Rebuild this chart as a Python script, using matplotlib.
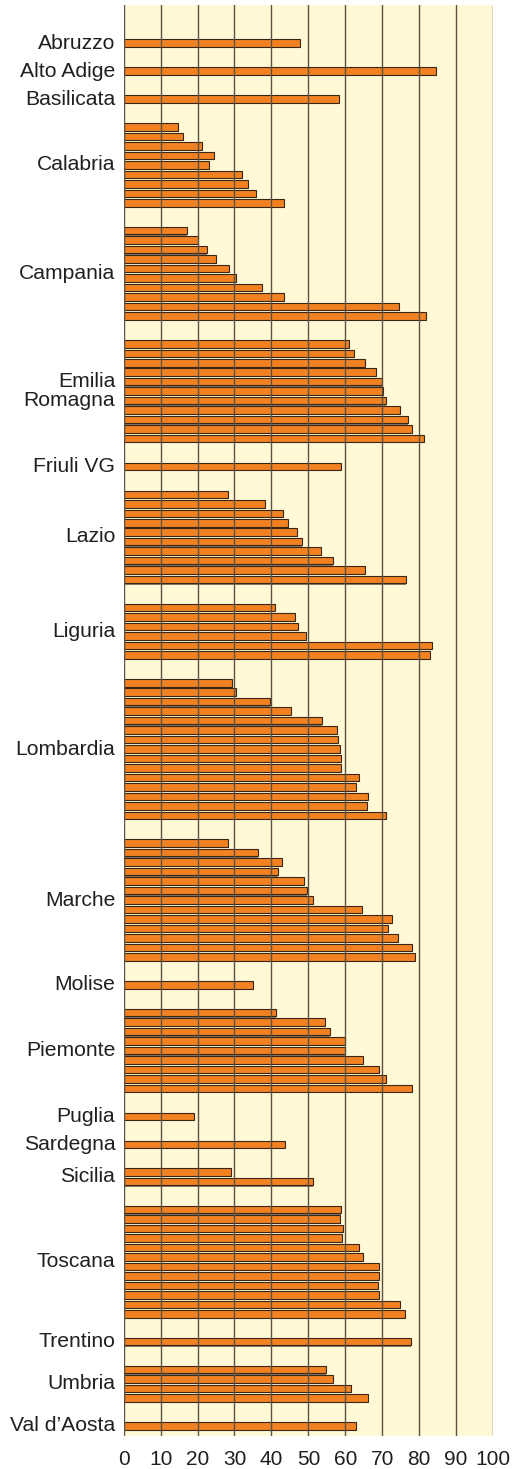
import matplotlib
matplotlib.use("Agg")
import matplotlib.pyplot as plt
import numpy as np

plt.rcParams['font.family'] = ['Liberation Sans', 'DejaVu Sans']

regions = ["Abruzzo", "Alto Adige", "Basilicata", "Calabria", "Campania",
           "Emilia\nRomagna", "Friuli VG", "Lazio", "Liguria", "Lombardia",
           "Marche", "Molise", "Piemonte", "Puglia", "Sardegna", "Sicilia",
           "Toscana", "Trentino", "Umbria", "Val d\u2019Aosta"]

abruzzo = [47.8]
alto_adige = [84.6]
basilicata = [58.4]
calabria = [14.7, 16.1, 21.1, 24.4, 23.0, 31.9, 33.6, 35.9, 43.4]
campania = [17.1, 20.0, 22.6, 25.0, 28.5, 30.3, 37.4, 43.4, 74.6, 81.9]
emilia_romagna = [61.1, 62.3, 65.3, 68.3, 70.0, 70.1, 71.1, 74.9, 77.1, 78.2, 81.2]
friuli_vg = [58.9]
lazio = [28.2, 38.2, 43.2, 44.5, 46.8, 48.3, 53.5, 56.7, 65.4, 76.4]
liguria = [40.9, 46.4, 47.3, 49.3, 83.6, 82.9]
lombardia = [29.2, 30.3, 39.5, 45.3, 53.6, 57.7, 58.1, 58.7, 58.9, 58.9,
             63.6, 63.0, 66.2, 66.0, 71.1]
marche = [28.2, 36.3, 42.9, 41.8, 48.7, 49.7, 51.2, 64.4, 72.7, 71.7, 74.2, 78.2, 78.8]
molise = [34.9]
piemonte = [41.2, 54.5, 55.9, 59.9, 60.0, 64.9, 69.0, 71.1, 78.2]
puglia = [19.0]
sardegna = [43.8]
sicilia = [29.0, 51.2]
toscana = [58.9, 58.7, 59.5, 59.2, 63.6, 64.9, 69.0, 69.0, 68.8, 69.0, 74.9, 76.3]
trentino = [77.9]
umbria = [54.7, 56.8, 61.6, 66.2]
val_daosta = [62.8]

values_by_region = [abruzzo, alto_adige, basilicata, calabria, campania,
                    emilia_romagna, friuli_vg, lazio, liguria, lombardia,
                    marche, molise, piemonte, puglia, sardegna, sicilia,
                    toscana, trentino, umbria, val_daosta]

xticks = [0, 10, 20, 30, 40, 50, 60, 70, 80, 90, 100]

# layout: distance (in bar slots) from last bar of a group to first bar of the next
GAP = 2.95
ys_all, vals_all, label_pos = [], [], []
pos = 0.0
for i, vals in enumerate(values_by_region):
    if i > 0:
        pos += GAP
    start = pos
    for j, v in enumerate(vals):
        if j > 0:
            pos += 1
        ys_all.append(pos)
        vals_all.append(v)
    label_pos.append((start + pos) / 2)
last = pos

W, H = 524, 1469
fig = plt.figure(figsize=(W / 100, H / 100), dpi=100)
ax = fig.add_axes([123.7 / W, (H - 1436) / H, (493 - 123.7) / W, (1436 - 5) / H])
ax.set_facecolor('#FFF9D6')

# shadow lines
ax.barh(np.array(ys_all) + 0.12, vals_all, height=0.8, color='#8a7a6a',
        edgecolor='none', zorder=2)
ax.barh(ys_all, vals_all, height=0.8, color='#F28121', edgecolor='#3a2616',
        linewidth=0.8, zorder=3)

for x in xticks:
    ax.axvline(x, color='#5a5246', linewidth=1.0, zorder=4)

ax.set_xlim(0, 100)
ax.set_ylim(last + 1.06, -4.04)
ax.set_xticks(xticks)
ax.set_xticklabels([str(t) for t in xticks], fontsize=15, color='#231f20')
ax.tick_params(axis='x', length=0, pad=10)
ax.set_yticks([])
for s in ax.spines.values():
    s.set_visible(False)

for name, yp in zip(regions, label_pos):
    ax.text(-2.3, yp, name, ha='right', va='center', fontsize=15.2,
            color='#231f20', linespacing=1.0, clip_on=False)

fig.savefig('out.png', dpi=100)
